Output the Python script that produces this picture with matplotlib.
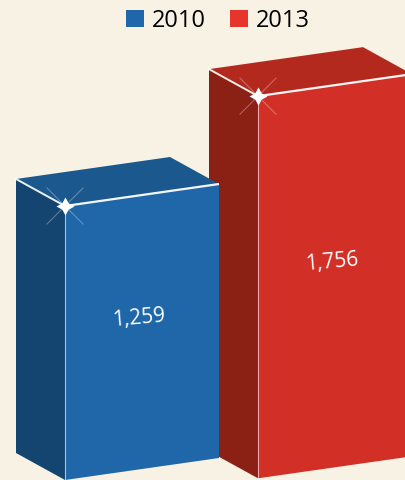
import matplotlib.pyplot as plt
from matplotlib.patches import Polygon, Patch

years = ["2010", "2013"]
values = [1259, 1756]
value_labels = ["1,259", "1,756"]
front_colors = ["#1F67A8", "#D22F27"]
side_colors = ["#144570", "#8B2014"]
top_colors = ["#1B588E", "#B4291E"]
legend_colors = ["#1F67A8", "#E8352C"]

BG = "#F7F2E4"
plt.rcParams["font.family"] = ["Open Sans", "DejaVu Sans"]

PX = 274 / 1259  # pixels per unit on y
fig = plt.figure(figsize=(4.05, 4.81), dpi=100)
fig.patch.set_facecolor(BG)
ax = fig.add_axes([0, 0, 1, 1])
ax.set_facecolor(BG)
ax.set_xlim(0, 405)
ax.set_ylim(0, 481 / PX)
ax.axis("off")

x_left = [65, 258]
base = [0, 1.7 / PX]
width = 154
dx, dy = -49, 27 / PX
shear = 22 / PX

# draw the right bar first so the left one sits in front of it
for i in reversed(range(len(values))):
    v = values[i]
    x0, b = x_left[i], base[i]
    x1 = x0 + width
    fl_b, fl_t = (x0, b), (x0, b + v)
    fr_b, fr_t = (x1, b + shear), (x1, b + shear + v)
    bl_b, bl_t = (x0 + dx, b + dy), (x0 + dx, b + v + dy)
    br_t = (x1 + dx, b + shear + v + dy)
    z = 10 - i * 5

    ax.add_patch(Polygon([bl_b, fl_b, fl_t, bl_t], closed=True, zorder=z,
                         facecolor=side_colors[i], edgecolor="none"))
    ax.add_patch(Polygon([fl_b, fr_b, fr_t, fl_t], closed=True, zorder=z,
                         facecolor=front_colors[i], edgecolor="none"))
    ax.add_patch(Polygon([fl_t, fr_t, br_t, bl_t], closed=True, zorder=z,
                         facecolor=top_colors[i], edgecolor="none"))

    # highlight edges
    ax.plot([fl_t[0], fr_t[0]], [fl_t[1], fr_t[1]], color="white", lw=1.6,
            solid_capstyle="butt", alpha=0.95, zorder=z + 1)
    ax.plot([bl_t[0], fl_t[0]], [bl_t[1], fl_t[1]], color="white", lw=1.4,
            alpha=0.9, zorder=z + 1)
    ax.plot([fl_b[0], fl_t[0]], [fl_b[1], fl_t[1]], color="white", lw=0.8,
            alpha=0.6, zorder=z + 1)

    # sparkle
    for sx, sy in [(1, 1), (1, -1), (-1, 1), (-1, -1)]:
        ax.plot([fl_t[0], fl_t[0] + sx * 18], [fl_t[1], fl_t[1] + sy * 18 / PX],
                color="white", lw=0.8, alpha=0.3, zorder=z + 1)
    ax.plot(fl_t[0], fl_t[1], marker=(4, 1, 0), ms=13, color="white", mew=0,
            zorder=z + 2)
    ax.plot(fl_t[0], fl_t[1], marker="o", ms=5, color="white", mew=0,
            zorder=z + 2)

    ax.text(x0 + 74, b + v / 2 + shear / 2 + 15 / PX, value_labels[i],
            color="white", fontsize=15, ha="center", va="center", rotation=5,
            zorder=z + 2)

handles = [Patch(facecolor=c, edgecolor="none") for c in legend_colors]
ax.legend(handles, years, loc="upper center", bbox_to_anchor=(218 / 405, 1.0),
          ncol=2, frameon=False, fontsize=17, handlelength=0.75,
          handleheight=0.75, handletextpad=0.35, columnspacing=1.0,
          borderaxespad=0)

fig.savefig("out.png", dpi=100, facecolor=BG)
